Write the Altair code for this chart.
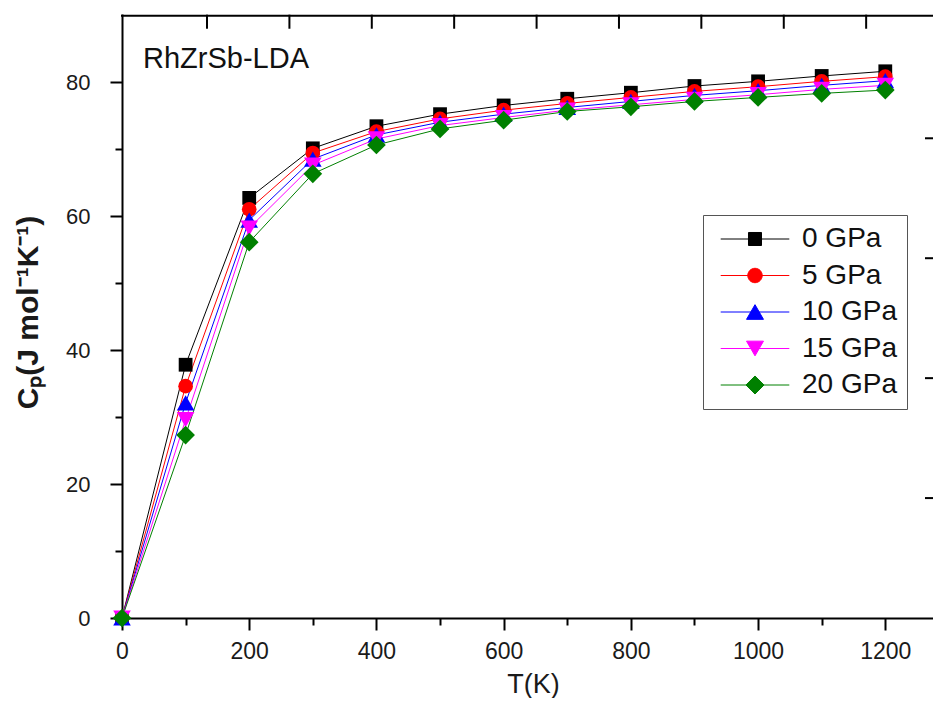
import altair as alt
import pandas as pd

# ---------------- data ----------------
temps = [0, 100, 200, 300, 400, 500, 600, 700, 800, 900, 1000, 1100, 1200]
series_names = ["0 GPa", "5 GPa", "10 GPa", "15 GPa", "20 GPa"]
cp_0gpa = [0, 37.8, 62.7, 70.1, 73.4, 75.2, 76.5, 77.5, 78.4, 79.4, 80.1, 80.9, 81.6]
cp_5gpa = [0, 34.6, 61.0, 69.4, 72.6, 74.5, 75.8, 76.8, 77.7, 78.6, 79.3, 80.1, 80.8]
cp_10gpa = [0, 32.1, 59.4, 68.5, 72.1, 74.0, 75.2, 76.2, 77.1, 78.0, 78.7, 79.5, 80.2]
cp_15gpa = [0, 29.6, 58.2, 67.6, 71.5, 73.5, 74.7, 75.8, 76.6, 77.4, 78.1, 78.9, 79.5]
cp_20gpa = [0, 27.3, 56.1, 66.3, 70.6, 73.0, 74.3, 75.6, 76.3, 77.1, 77.7, 78.3, 78.8]

x_tick_values = [0, 100, 200, 300, 400, 500, 600, 700, 800, 900, 1000, 1100, 1200]
y_tick_values = [0, 10, 20, 30, 40, 50, 60, 70, 80]
x_domain = [0, 1275]
y_domain = [0, 90.15]
# frame of the neighbouring panel (top edge in T units, right edge in Cp units)
top_edge_cp = 89.9
top_tick_T = [133.6, 263.2, 392.7, 522.2, 651.8, 781.3, 910.8, 1040.4, 1169.9]
top_tick_len_cp = 1.8
right_tick_cp = [17.9, 35.8, 53.7, 71.6]
right_tick_len_T = 11.0

annotation_text = ["RhZrSb-LDA"]
annotation_T = [33]
annotation_cp = [82.1]

# ---------------- styles ----------------
line_colors = ["#000000", "#ff0000", "#0000ff", "#ff00ff", "#008000"]
marker_shapes = ["square", "circle", "triangle-up", "triangle-down", "diamond"]
marker_sizes = [190, 215, 310, 310, 350]
legend_paths = [
    "M-4.9,0H4.9M-0.93,-0.93H0.93V0.93H-0.93Z",
    "M-4.9,0H4.9M-1.03,0A1.03,1.03,0,1,1,1.03,0A1.03,1.03,0,1,1,-1.03,0Z",
    "M-4.9,0H4.9M0,-1.05L1.21,1.05L-1.21,1.05Z",
    "M-4.9,0H4.9M0,1.05L1.21,-1.05L-1.21,-1.05Z",
    "M-4.9,0H4.9M-1.29,0L0,-1.29L1.29,0L0,1.29Z",
]

all_series = [cp_0gpa, cp_5gpa, cp_10gpa, cp_15gpa, cp_20gpa]
rows = []
for name, vals in zip(series_names, all_series):
    for t, v in zip(temps, vals):
        rows.append({"T": t, "Cp": v, "series": name})
df = pd.DataFrame(rows)

ann_df = pd.DataFrame({"T": annotation_T, "Cp": annotation_cp, "txt": annotation_text})
frame_rows = []
frame_rows.append({"T": x_domain[0], "T2": x_domain[1], "Cp": top_edge_cp, "Cp2": top_edge_cp})
for t in top_tick_T:
    frame_rows.append({"T": t, "T2": t, "Cp": top_edge_cp, "Cp2": top_edge_cp - top_tick_len_cp})
for c in right_tick_cp:
    frame_rows.append({"T": x_domain[1], "T2": x_domain[1] - right_tick_len_T, "Cp": c, "Cp2": c})
frame_df = pd.DataFrame(frame_rows)

FONT = "Liberation Sans"
W, H = 811, 604

x_scale = alt.Scale(domain=x_domain, nice=False, zero=False)
y_scale = alt.Scale(domain=y_domain, nice=False, zero=False)

x_axis = alt.Axis(
    orient="bottom",
    values=x_tick_values,
    format="d",
    labelExpr="datum.value % 200 === 0 ? datum.label : ''",
    tickSize={"condition": {"test": "datum.value % 200 === 0", "value": 12}, "value": 7},
    labelPadding=10,
    labelFontSize=23,
    labelFlush=False,
    title="T(K)",
    titleFontSize=27,
    titleFontWeight="normal",
    titleX=411,
    titleY=74,
    titleAlign="center",
    titleBaseline="alphabetic",
)
y_axis = alt.Axis(
    orient="left",
    values=y_tick_values,
    format="d",
    labelExpr="datum.value % 20 === 0 ? datum.label : ''",
    tickSize={"condition": {"test": "datum.value % 20 === 0", "value": 12}, "value": 7},
    labelPadding=20,
    labelFontSize=22,
    labelFlush=False,
    title="Cₚ(J mol⁻¹K⁻¹)",
    titleFontSize=30,
    titleFontWeight="bold",
    titleAngle=270,
    titleX=-85,
    titleY=298,
    titleAlign="center",
    titleBaseline="alphabetic",
)

X = alt.X("T:Q", scale=x_scale, axis=x_axis)
Y = alt.Y("Cp:Q", scale=y_scale, axis=y_axis)
color_scale = alt.Scale(domain=series_names, range=line_colors)

frame = alt.Chart(frame_df).mark_rule(color="black", strokeWidth=2, strokeCap="square").encode(
    x=X, x2="T2:Q", y=Y, y2="Cp2:Q"
)

lines = alt.Chart(df).mark_line(strokeWidth=1).encode(
    x=X,
    y=Y,
    color=alt.Color("series:N", scale=color_scale, legend=None),
    detail="series:N",
    order="T:Q",
)

point_layers = []
for name, col, shp, sz in zip(series_names, line_colors, marker_shapes, marker_sizes):
    point_layers.append(
        alt.Chart(df)
        .transform_filter(alt.datum.series == name)
        .mark_point(filled=True, opacity=1, color=col, shape=shp, size=sz)
        .encode(x=X, y=Y)
    )

def make_legend():
    return alt.Legend(
        title=None,
        orient="none",
        legendX=581,
        legendY=201,
        symbolSize=196,
        symbolStrokeWidth=1,
        symbolOffset=28,
        symbolOpacity=1,
        labelOffset=33,
        labelFont=FONT,
        labelFontSize=28,
        labelColor="#111111",
        strokeColor="#555555",
        fillColor="white",
        padding=10,
        rowPadding=8.5,
        labelLimit=300,
    )

legend_layer = alt.Chart(df).mark_point(opacity=0, strokeWidth=1).encode(
    x=X,
    y=Y,
    fill=alt.Fill("series:N", scale=alt.Scale(domain=series_names, range=line_colors), legend=make_legend()),
    stroke=alt.Stroke("series:N", scale=alt.Scale(domain=series_names, range=line_colors), legend=make_legend()),
    shape=alt.Shape("series:N", scale=alt.Scale(domain=series_names, range=legend_paths), legend=make_legend()),
)

annotation = alt.Chart(ann_df).mark_text(
    font=FONT, fontSize=29, align="left", baseline="alphabetic", color="#111111"
).encode(
    x=X,
    y=Y,
    text="txt:N",
)

chart = (
    alt.layer(frame, lines, *point_layers, legend_layer, annotation)
    .resolve_scale(shape="independent", fill="independent", stroke="independent")
    .properties(
        width=W,
        height=H,
        autosize=alt.AutoSizeParams(type="none"),
        padding={"left": 114, "top": 6, "right": 0, "bottom": 80},
        background="white",
    )
    .configure_view(stroke=None)
    .configure_axis(
        domainColor="black",
        domainWidth=2,
        tickColor="black",
        tickWidth=2,
        grid=False,
        labelFont=FONT,
        titleFont=FONT,
        labelColor="#1a1a1a",
        titleColor="#1a1a1a",
    )
)

chart.save("out.html", embed_options={"renderer": "svg", "actions": False})
